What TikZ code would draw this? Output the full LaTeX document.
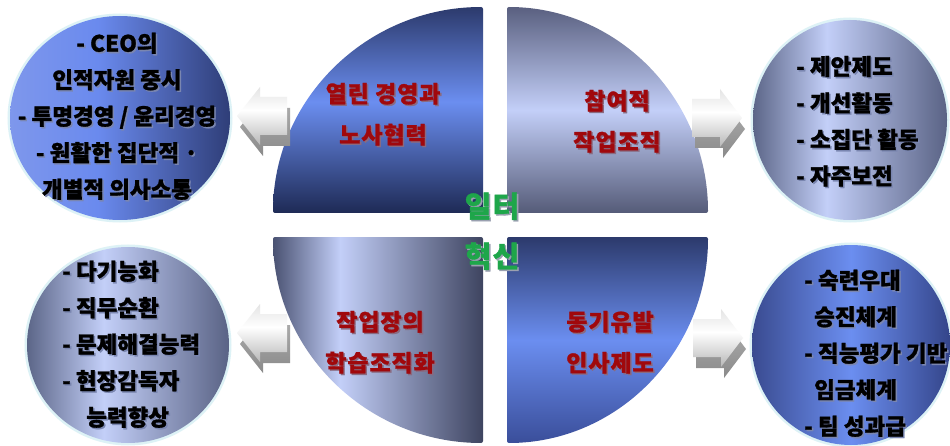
\documentclass[tikz,border=0pt]{standalone}
\usepackage{fontspec}
\setmainfont{Noto Sans CJK KR}[BoldFeatures={FakeBold=1.2}]
\newfontfamily\spaced{Noto Sans CJK KR}[LetterSpace=4, BoldFeatures={FakeBold=1.2}]
\definecolor{navyT}{HTML}{2C3A6C}
\definecolor{navyB}{HTML}{1E2A55}
\definecolor{blueL}{HTML}{6B8EF0}
\definecolor{blueB}{HTML}{3A4E9A}
\definecolor{grayT}{HTML}{5A6080}
\definecolor{grayB}{HTML}{555B78}
\definecolor{grayL}{HTML}{4A5272}
\definecolor{grayR}{HTML}{3E4460}
\definecolor{lilac}{HTML}{C3CFF8}
\definecolor{cA}{HTML}{7E97EC}
\definecolor{cB}{HTML}{6A8AEE}
\definecolor{cC}{HTML}{2F3E78}
\definecolor{cD}{HTML}{3A4B90}
\definecolor{cE}{HTML}{34458A}
\definecolor{cG}{HTML}{5C6688}
\definecolor{cH}{HTML}{5A6385}
\definecolor{glow}{HTML}{DDF2F6}
\definecolor{arT}{HTML}{E4E4E4}
\definecolor{arB}{HTML}{B8B8B8}
\definecolor{arD}{HTML}{8A8A8A}
\definecolor{arDT}{HTML}{B0B0B0}
\definecolor{redT}{HTML}{A0080C}
\definecolor{greenT}{HTML}{1EA64A}
\definecolor{tshadow}{HTML}{7A86B0}
\definecolor{rshadow}{HTML}{8A6A80}
\definecolor{gshade}{HTML}{9AA0B0}
\pgfdeclareverticalshading{tlshade}{100bp}{color(0bp)=(navyB); color(25bp)=(navyB); color(52bp)=(blueL); color(75bp)=(navyT); color(100bp)=(navyT)}
\pgfdeclareverticalshading{trshade}{100bp}{color(0bp)=(grayB); color(25bp)=(grayB); color(50bp)=(lilac); color(75bp)=(grayT); color(100bp)=(grayT)}
\pgfdeclarehorizontalshading{blshade}{100bp}{color(0bp)=(grayL); color(25bp)=(grayL); color(41bp)=(lilac); color(75bp)=(grayR); color(100bp)=(grayR)}
\pgfdeclareverticalshading{brshade}{100bp}{color(0bp)=(blueB); color(25bp)=(blueB); color(50bp)=(blueL); color(75bp)=(navyT); color(100bp)=(navyT)}
\pgfdeclarehorizontalshading{cblueA}{100bp}{color(0bp)=(cA); color(25bp)=(cA); color(45bp)=(cB); color(75bp)=(cC); color(100bp)=(cC)}
\pgfdeclarehorizontalshading{cblueB}{100bp}{color(0bp)=(cD); color(25bp)=(cD); color(50bp)=(blueL); color(75bp)=(cE); color(100bp)=(cE)}
\pgfdeclarehorizontalshading{cgray}{100bp}{color(0bp)=(cG); color(25bp)=(cG); color(44bp)=(lilac); color(75bp)=(cH); color(100bp)=(cH)}
\pgfdeclareverticalshading{arfront}{100bp}{color(0bp)=(arB); color(25bp)=(arB); color(55bp)=(white); color(75bp)=(arT); color(100bp)=(arT)}
\pgfdeclareverticalshading{arback}{100bp}{color(0bp)=(arD); color(25bp)=(arD); color(75bp)=(arDT); color(100bp)=(arDT)}
% text with a small drop shadow, inside one node
\newcommand\shd[2]{\makebox[0pt][l]{\hspace{1.5pt}\raisebox{-1.5pt}{\color{#1}#2}}#2}
\newcommand\ct[1]{\shd{tshadow}{#1}}
\newcommand\rt[1]{\shd{rshadow}{#1}}
\newcommand\gt[1]{\shd{gshade}{#1}}
\tikzset{
  quad/.style={rounded corners=2pt},
  glowline/.style={draw=glow, line width=5pt},
  ctext/.style={font=\fontsize{22.5}{36.5}\selectfont\bfseries, text=black, inner sep=0pt},
  qtext/.style={font=\spaced\fontsize{23}{41}\selectfont\bfseries, text=redT, inner sep=0pt, align=center},
  gtext/.style={font=\spaced\fontsize{29}{50}\selectfont\bfseries, text=greenT, inner sep=0pt, align=center},
  arrowfront/.style={shading=arfront},
  arrowback/.style={shading=arback},
}
\newcommand\leftblock[2]{%
  \path[arrowback] (#1+3,#2-11) -- (#1+26,#2+18) -- (#1+26,#2+8) -- (#1+53,#2+8) -- (#1+53,#2-30) -- (#1+26,#2-30) -- (#1+26,#2-40) -- cycle;
  \path[arrowfront] (#1,#2) -- (#1+23,#2+29) -- (#1+23,#2+19) -- (#1+50,#2+19) -- (#1+50,#2-19) -- (#1+23,#2-19) -- (#1+23,#2-29) -- cycle;}
\newcommand\rightblock[2]{%
  \path[arrowback] (#1+3,#2-11) -- (#1-19,#2+18) -- (#1-19,#2+8) -- (#1-47,#2+8) -- (#1-47,#2-30) -- (#1-19,#2-30) -- (#1-19,#2-40) -- cycle;
  \path[arrowfront] (#1,#2) -- (#1-22,#2+29) -- (#1-22,#2+19) -- (#1-50,#2+19) -- (#1-50,#2-19) -- (#1-22,#2-19) -- (#1-22,#2-29) -- cycle;}
\begin{document}
\begin{tikzpicture}[x=1pt,y=1pt]
\useasboundingbox (0,0) rectangle (950,445);
\fill[white] (0,0) rectangle (950,445);
% quadrants
\path[quad, shading=tlshade] (483,232) -- (273,232) arc[start angle=180, end angle=90, x radius=210pt, y radius=206pt] -- cycle;
\path[quad, shading=trshade] (507,232) -- (507,438) arc[start angle=90, end angle=0, x radius=201pt, y radius=206pt] -- cycle;
\path[quad, shading=blshade] (483,208) -- (273,208) arc[start angle=180, end angle=270, x radius=210pt, y radius=206pt] -- cycle;
\path[quad, shading=brshade] (507,208) -- (507,2) arc[start angle=270, end angle=360, x radius=201pt, y radius=206pt] -- cycle;
% circles
\draw[glowline] (120,327) ellipse[x radius=110pt, y radius=102pt];
\path[shading=cblueA] (120,327) ellipse[x radius=110pt, y radius=102pt];
\draw[glowline] (850,325) ellipse[x radius=97pt, y radius=100pt];
\path[shading=cgray] (850,325) ellipse[x radius=97pt, y radius=100pt];
\draw[glowline] (128,100) ellipse[x radius=101pt, y radius=98pt];
\path[shading=cgray] (128,100) ellipse[x radius=101pt, y radius=98pt];
\draw[glowline] (851,100) ellipse[x radius=99pt, y radius=100pt];
\path[shading=cblueB] (851,100) ellipse[x radius=99pt, y radius=100pt];
% arrows
\leftblock{237}{329}
\rightblock{742}{327}
\leftblock{237}{112}
\rightblock{743}{107}
% circle texts
\node[ctext, align=center] (lt) at (117,328) {\ct{- CEO의}\\\ct{인적자원 중시}\\\ct{- 투명경영 / 윤리경영}\\\ct{- 원활한 집단적 ·}\\\ct{개별적 의사소통}};
\node[ctext, align=left, anchor=west] (rtx) at (796,323) {\ct{- 제안제도}\\\ct{- 개선활동}\\\ct{- 소집단 활동}\\\ct{- 자주보전}};
\node[ctext, align=left, anchor=west] (lb) at (62,100) {\ct{- 다기능화}\\\ct{- 직무순환}\\\ct{- 문제해결능력}\\\ct{- 현장감독자}\\\hspace*{24pt}\ct{능력향상}};
\node[ctext, align=left, anchor=west] (rb) at (804,91) {\ct{- 숙련우대}\\\hspace*{10pt}\ct{승진체계}\\\ct{- 직능평가 기반}\\\hspace*{10pt}\ct{임금체계}\\\ct{- 팀 성과급}};
% quadrant texts
\node[qtext] (q1) at (383,330) {\rt{열린 경영과}\\\rt{노사협력}};
\node[qtext] (q2) at (617,323) {\rt{참여적}\\\rt{작업조직}};
\node[qtext] (q3) at (380,102) {\rt{작업장의}\\\rt{학습조직화}};
\node[qtext] (q4) at (610,102) {\rt{동기유발}\\\rt{인사제도}};
% centre
\node[gtext] (c) at (492,213) {\gt{일터}\\\gt{혁신}};
\end{tikzpicture}
\end{document}
